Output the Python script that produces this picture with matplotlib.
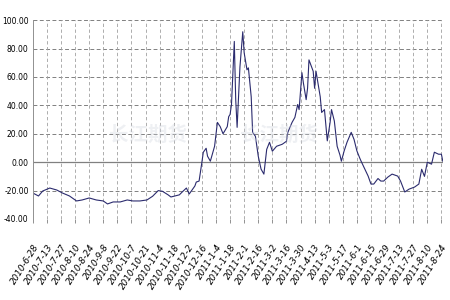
import matplotlib
matplotlib.use("Agg")
import matplotlib.pyplot as plt

# trading-day position and value
days = [0, 4, 7, 12, 17, 21, 26, 31, 35, 40, 45, 50, 53, 57, 62, 67, 71, 76, 81,
        85, 89, 92, 96, 98, 104, 106, 109, 111, 115, 116, 118, 120, 121, 123, 124,
        126, 129, 131, 133, 135, 138, 139, 140, 141, 143, 144, 145, 147, 149, 150,
        152, 153, 155, 156, 158, 160, 162, 164, 166, 168, 170, 173, 177, 180, 181,
        184, 186, 188, 189, 191, 192, 194, 195, 196, 199, 200, 201, 204, 205, 207,
        209, 211, 212, 214, 216, 218, 219, 221, 223, 226, 228, 230, 232, 233, 235,
        238, 240, 242, 245, 247, 249, 252, 255, 259, 261, 264, 267, 271, 274, 276,
        278, 280, 283, 285, 288, 290, 291]
values = [-21.7, -23.8, -20.3, -18.2, -19.6, -21.7, -23.8, -27.3, -26.6, -25.2,
          -26.6, -27.3, -29.4, -28.0, -28.0, -26.6, -27.3, -27.3, -26.6,
          -24.0, -20.0, -20.5, -23.0, -24.5, -23.0, -21.0, -18.2, -22.4, -16.8,
          -14.0, -13.3, 0.0, 7.0, 9.8, 4.2, 0.7, 11.2, 28.0, 25.0, 20.0, 25.0,
          32.0, 33.6, 40.6, 85.0, 44.0, 24.5, 67.0, 91.8, 77.0, 65.0, 66.4, 46.0,
          21.0, 18.2, 4.2, -4.9, -8.4, 9.0, 14.0, 7.7, 11.2, 12.6, 14.7, 21.0,
          28.0, 31.5, 40.6, 37.0, 63.0, 56.0, 44.0, 52.0, 72.0, 64.0, 52.0, 64.0,
          46.0, 35.0, 37.0, 15.0, 28.0, 37.0, 29.0, 11.2, 5.0, 0.7, 8.0, 14.0,
          21.0, 16.0, 8.0, 3.0, 0.7, -3.5, -9.8, -15.4, -15.4, -11.5, -13.3,
          -13.3, -10.5, -8.4, -9.8, -13.3, -21.0, -19.0, -17.5, -15.4, -5.0,
          -10.0, 0.0, -1.4, 7.0, 5.6, 5.6, 0.7]

tick_labels = ["2010-6-28", "2010-7-13", "2010-7-27", "2010-8-10", "2010-8-24",
               "2010-9-8", "2010-9-22", "2010-10-7", "2010-10-21", "2010-11-4",
               "2010-11-18", "2010-12-2", "2010-12-16", "2011-1-4", "2011-1-18",
               "2011-2-1", "2011-2-16", "2011-3-2", "2011-3-16", "2011-3-30",
               "2011-4-13", "2011-5-3", "2011-5-17", "2011-6-1", "2011-6-15",
               "2011-6-29", "2011-7-13", "2011-7-27", "2011-8-10", "2011-8-24"]
y_ticks = [-40, -20, 0, 20, 40, 60, 80, 100]

fig = plt.figure(figsize=(4.5, 3), dpi=100)
ax = fig.add_axes([0.073, 0.27, 0.911, 0.663])

tick_pos = [i * 10 for i in range(len(tick_labels))]

# faint watermark
for wx in (0.28, 0.6):
    ax.text(wx, 0.42, "长江期货", transform=ax.transAxes, fontsize=14,
            color="#d0d4de", alpha=0.35, family=["Noto Sans CJK SC", "DejaVu Sans"],
            ha="center", va="center", fontweight="bold")

for y in y_ticks:
    if y == 0:
        ax.axhline(0, color="#808080", lw=0.9)
    else:
        ax.axhline(y, color="#808080", lw=0.7, ls=(0, (4, 2.5)))
for x in tick_pos[1:]:
    ax.axvline(x, color="#a0a0a0", lw=0.6, ls=(0, (4, 3)))

ax.plot(days, values, color="#2b2b6e", lw=0.8)

ax.set_xlim(0, 291)
ax.set_ylim(-40, 100)
ax.set_yticks(y_ticks)
ax.set_yticklabels(["%.2f" % v for v in y_ticks], fontsize=5.5)
ax.set_xticks(tick_pos)
ax.set_xticklabels(tick_labels, rotation=58, ha="right", fontsize=6.3,
                   style="italic", rotation_mode="anchor")
ax.tick_params(axis="x", length=3, width=0.6, color="#808080", pad=14)
ax.tick_params(axis="y", length=0, pad=3)

for s in ("top", "right", "bottom"):
    ax.spines[s].set_visible(False)
ax.spines["left"].set_color("#909090")
ax.spines["left"].set_linewidth(0.7)

fig.savefig("out.png", dpi=100)
